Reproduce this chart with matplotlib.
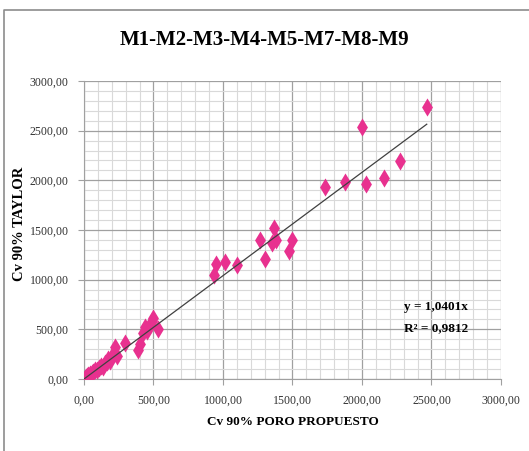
import matplotlib
matplotlib.use('Agg')
import matplotlib.pyplot as plt
from matplotlib.ticker import MultipleLocator, FuncFormatter
from matplotlib.lines import Line2D
import numpy as np

# Cv 90% poro propuesto (x) vs Cv 90% Taylor (y)
cv_poro = [5, 12, 20, 28, 35, 45, 55, 65, 80, 95, 110, 125, 140, 150, 165, 175, 190,
           210, 225, 235, 295, 390, 405, 425, 440, 455, 475, 490, 500, 535,
           932, 949, 1017, 1101, 1268, 1300, 1353, 1365, 1380, 1473, 1493,
           1734, 1879, 2000, 2029, 2159, 2270, 2466]
cv_taylor = [5, 15, 25, 35, 30, 50, 60, 75, 90, 95, 110, 130, 120, 160, 175, 200, 185,
             255, 320, 230, 360, 290, 355, 460, 525, 480, 540, 580, 610, 505,
             1044, 1161, 1180, 1145, 1402, 1205, 1365, 1525, 1400, 1292, 1396,
             1931, 1981, 2540, 1958, 2021, 2192, 2741]
slope = 1.0401
r2 = 0.9812

plt.rcParams['font.family'] = ['Liberation Serif', 'DejaVu Serif']

fig = plt.figure(figsize=(5.29, 4.51), dpi=100)
# outer chart frame (top and left edges visible)
fig.lines.append(Line2D([4 / 529, 4 / 529, 1], [0, 1 - 10 / 451, 1 - 10 / 451],
                        transform=fig.transFigure, color='#8c8c8c', linewidth=1.2))
ax = fig.add_axes([0.1588, 0.1597, 0.7882, 0.6607])

ax.scatter(cv_poro, cv_taylor, marker='d', s=85, color='#E8318F', zorder=3, linewidths=0)
xs = np.array([0, max(cv_poro)])
ax.plot(xs, slope * xs, color='#404040', linewidth=0.9, zorder=4)

ax.set_xlim(0, 3000)
ax.set_ylim(0, 3000)
ax.xaxis.set_major_locator(MultipleLocator(500))
ax.yaxis.set_major_locator(MultipleLocator(500))
ax.xaxis.set_minor_locator(MultipleLocator(100))
ax.yaxis.set_minor_locator(MultipleLocator(100))
fmt = FuncFormatter(lambda v, p: ('%.2f' % v).replace('.', ','))
ax.xaxis.set_major_formatter(fmt)
ax.yaxis.set_major_formatter(fmt)
ax.grid(which='major', color='#a0a0a0', linewidth=0.9)
ax.grid(which='minor', color='#d9d9d9', linewidth=0.8)
ax.set_axisbelow(True)
for s in ['top', 'right']:
    ax.spines[s].set_visible(False)
for s in ['left', 'bottom']:
    ax.spines[s].set_color('#a0a0a0')
ax.tick_params(which='major', length=4, color='#a0a0a0', labelsize=8.6, pad=7,
               labelcolor='#333333')
ax.tick_params(which='minor', length=0)

ax.set_xlabel('Cv 90% PORO PROPUESTO', fontsize=9.5, fontweight='bold', labelpad=7)
ax.set_ylabel('Cv 90% TAYLOR', fontsize=10.5, fontweight='bold')
ax.yaxis.set_label_coords(-0.138, 0.52)
fig.text(0.5, 1 - 40 / 451, 'M1-M2-M3-M4-M5-M7-M8-M9', ha='center', va='center',
         fontsize=15, fontweight='bold')
ax.text(2300, 720, 'y = 1,0401x', fontsize=9.5, fontweight='bold', va='center')
ax.text(2300, 510, 'R² = 0,9812', fontsize=9.5, fontweight='bold', va='center')

fig.savefig('out.png', dpi=100)
